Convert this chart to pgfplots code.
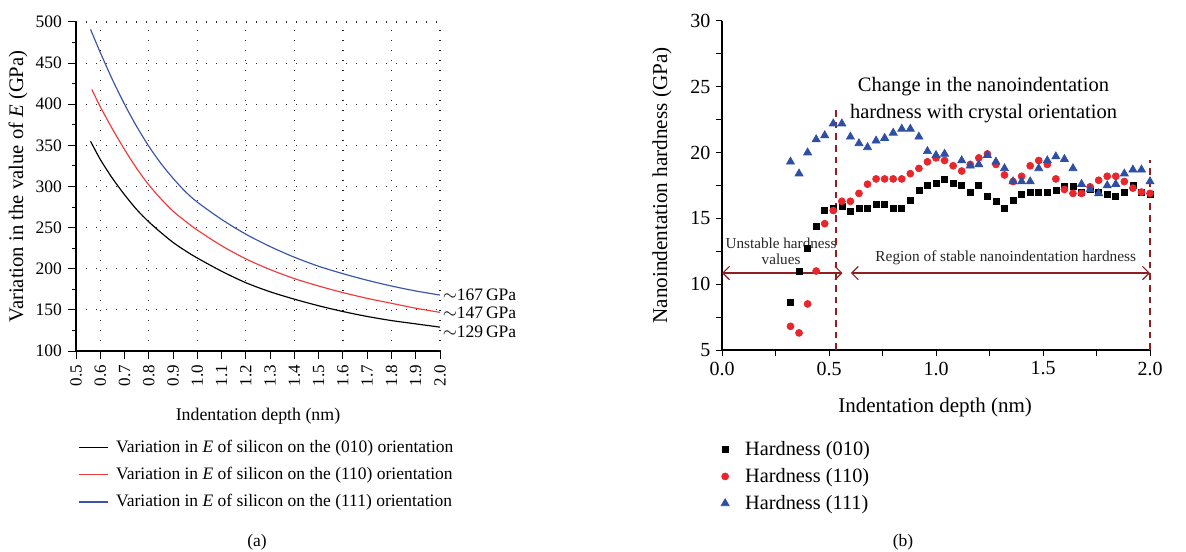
\documentclass[border=0pt]{standalone}
\usepackage{pgfplots}
\pgfplotsset{compat=1.18}
\usepackage{fontspec}
\setmainfont{Liberation Serif}
\usetikzlibrary{arrows.meta}
\definecolor{cRed}{HTML}{E8262B}
\definecolor{cBlue}{HTML}{2E4FA3}
\definecolor{lRed}{HTML}{F23A3A}
\definecolor{lBlue}{HTML}{3A55A8}
\definecolor{dRed}{HTML}{8E1F22}
\begin{document}
\begin{tikzpicture}
\useasboundingbox (0,0) rectangle (711.6pt,-331.2pt);
% ---------------- (a) ----------------
\begin{axis}[
  at={(45.6pt,-210.6pt)}, anchor=south west,
  scale only axis, width=218.4pt, height=197.4pt,
  xmin=0.5, xmax=2.0, ymin=100, ymax=500,
  axis x line*=bottom, axis y line*=left,
  axis line style={line width=0.7pt},
  xtick={0.5,0.6,...,2.01},
  xticklabels={0.5,0.6,0.7,0.8,0.9,1.0,1.1,1.2,1.3,1.4,1.5,1.6,1.7,1.8,1.9,2.0},
  ytick={100,150,...,500},
  minor y tick num=1,
  tick align=outside,
  major tick length=5pt, minor tick length=2.5pt,
  tick style={black, line width=0.6pt},
  xticklabel style={rotate=90, anchor=east, font=\fontsize{10.2}{12}\selectfont},
  yticklabel style={font=\fontsize{10.5}{12}\selectfont},
  /pgf/number format/assume math mode=true,
  ymajorgrids,
  grid style={black!85, line width=0.7pt, dash pattern=on 0.7pt off 5.3pt},
  extra x ticks={0.6,0.8,1.0,1.2,1.4,1.6,1.8,2.0},
  extra x tick labels={},
  extra x tick style={grid=major, major tick length=0pt},
  xlabel={Indentation depth (nm)},
  xlabel style={at={(axis description cs:0.5,-0.198)}, anchor=center, font=\fontsize{10.7}{12}\selectfont},
  ylabel={Variation in the value of \textit{E} (GPa)},
  ylabel style={at={(axis description cs:-0.159,0.5)}, anchor=center, font=\fontsize{12.4}{14}\selectfont},
  clip=false,
  legend style={at={(axis description cs:0.0,-0.255)}, anchor=north west, draw=none, fill=none,
    font=\fontsize{10.5}{12.5}\selectfont, row sep=3.4pt, inner sep=1pt},
  legend cell align=left,
  legend image code/.code={\draw[#1] (0pt,0pt) -- (17.4pt,0pt); \path[draw=none] (0pt,0pt) -- (20.5pt,0pt);},
]
\addplot[black, line width=0.7pt, smooth] coordinates {
(0.56,355) (0.6,333) (0.65,310) (0.7,290) (0.75,272) (0.8,257) (0.85,244) (0.9,232) (0.95,222)
(1.0,213) (1.1,197) (1.2,183) (1.3,172) (1.4,163) (1.5,155) (1.6,148) (1.7,142) (1.8,137) (1.9,133) (2.0,129)};
\addlegendentry{Variation in \textit{E} of silicon on the (010) orientation}
\addplot[lRed, line width=0.7pt, smooth] coordinates {
(0.565,418) (0.6,397) (0.65,370) (0.7,345) (0.75,322) (0.8,302) (0.85,285) (0.9,270) (0.95,258)
(1.0,247) (1.1,228) (1.2,212) (1.3,199) (1.4,188) (1.5,179) (1.6,171) (1.7,164) (1.8,158) (1.9,152) (2.0,147)};
\addlegendentry{Variation in \textit{E} of silicon on the (110) orientation}
\addplot[lBlue, line width=0.7pt, smooth] coordinates {
(0.56,491) (0.6,463) (0.65,430) (0.7,400) (0.75,373) (0.8,349) (0.85,328) (0.9,310) (0.95,294)
(1.0,281) (1.1,260) (1.2,242) (1.3,227) (1.4,214) (1.5,203) (1.6,194) (1.7,186) (1.8,179) (1.9,173) (2.0,168)};
\addlegendentry{Variation in \textit{E} of silicon on the (111) orientation}
\node[anchor=west, font=\fontsize{10.5}{12}\selectfont, inner sep=0pt] at (axis cs:2.01,168) {$\sim$167\,GPa};
\node[anchor=west, font=\fontsize{10.5}{12}\selectfont, inner sep=0pt] at (axis cs:2.01,146) {$\sim$147\,GPa};
\node[anchor=west, font=\fontsize{10.5}{12}\selectfont, inner sep=0pt] at (axis cs:2.01,123) {$\sim$129\,GPa};
\end{axis}
\node[font=\fontsize{10.5}{12}\selectfont] at (154.2pt,-325.2pt) {(a)};
% ---------------- (b) ----------------
\begin{axis}[
  at={(433.2pt,-210pt)}, anchor=south west,
  scale only axis, width=256.8pt, height=197.4pt,
  xmin=0, xmax=2.0, ymin=5, ymax=30,
  axis x line*=bottom, axis y line*=left,
  axis line style={line width=0.7pt},
  xtick={0,0.5,1.0,1.5,2.0},
  xticklabels={0.0,0.5,1.0,1.5,2.0},
  ytick={5,10,...,30},
  minor x tick num=1, minor y tick num=1,
  tick align=outside,
  major tick length=3.5pt, minor tick length=3.5pt,
  tick style={black, line width=0.6pt},
  ticklabel style={font=\fontsize{12}{14}\selectfont},
  /pgf/number format/assume math mode=true,
  xlabel={Indentation depth (nm)},
  xlabel style={at={(axis description cs:0.498,-0.176)}, anchor=center, font=\fontsize{12.6}{14}\selectfont},
  ylabel={Nanoindentation hardness (GPa)},
  ylabel style={at={(axis description cs:-0.140,0.5)}, anchor=center, font=\fontsize{12.7}{14}\selectfont},
  clip=false,
  legend style={at={(axis description cs:-0.009,-0.261)}, anchor=north west, draw=none, fill=none,
    font=\fontsize{12.2}{14}\selectfont, row sep=2.2pt, inner sep=1pt},
  legend cell align=left,
  legend image code/.code={\path[draw=none, fill=none] (-3pt,0pt) -- (10pt,0pt); \draw[#1] plot coordinates {(0pt,0pt)};},
]
\addplot[only marks, mark=square*, mark size=1.8pt, black] coordinates {
(0.32,8.6) (0.36,11.0) (0.40,12.7) (0.44,14.4) (0.48,15.6) (0.52,15.8) (0.56,15.9) (0.60,15.5)
(0.64,15.8) (0.68,15.8) (0.72,16.1) (0.76,16.1) (0.80,15.8) (0.84,15.8) (0.88,16.4) (0.92,17.1)
(0.96,17.5) (1.00,17.7) (1.04,18.0) (1.08,17.7) (1.12,17.5) (1.16,17.0) (1.20,17.5) (1.24,16.7)
(1.28,16.3) (1.32,15.8) (1.36,16.4) (1.40,16.8) (1.44,17.0) (1.48,17.0) (1.52,17.0) (1.56,17.1)
(1.60,17.4) (1.64,17.4) (1.68,17.0) (1.72,17.2) (1.76,17.0) (1.80,16.8) (1.84,16.7) (1.88,17.0)
(1.92,17.5) (1.96,17.0) (2.00,16.8)};
\addlegendentry{Hardness (010)}
\addplot[only marks, mark=*, mark size=2.1pt, cRed, mark options={draw=cRed, fill=cRed}] coordinates {
(0.32,6.8) (0.36,6.3) (0.40,8.5) (0.44,11.0) (0.48,14.6) (0.52,15.6) (0.56,16.3) (0.60,16.3)
(0.64,16.9) (0.68,17.6) (0.72,18.0) (0.76,18.0) (0.80,18.0) (0.84,18.0) (0.88,18.4) (0.92,18.8)
(0.96,19.3) (1.00,19.6) (1.04,19.4) (1.08,19.0) (1.12,18.6) (1.16,19.1) (1.20,19.6) (1.24,19.9)
(1.28,19.1) (1.32,18.3) (1.36,17.8) (1.40,18.2) (1.44,19.0) (1.48,19.4) (1.52,19.1) (1.56,18.0)
(1.60,17.2) (1.64,16.9) (1.68,16.9) (1.72,17.4) (1.76,17.9) (1.80,18.2) (1.84,18.2) (1.88,17.8)
(1.92,17.3) (1.96,17.0) (2.00,16.9)};
\addlegendentry{Hardness (110)}
\addplot[only marks, mark=triangle*, mark size=2.8pt, cBlue, mark options={draw=cBlue, fill=cBlue}] coordinates {
(0.32,19.3) (0.36,18.4) (0.40,20.0) (0.44,21.0) (0.48,21.3) (0.52,22.2) (0.56,22.2) (0.60,21.2)
(0.64,20.7) (0.68,20.4) (0.72,20.9) (0.76,21.1) (0.80,21.5) (0.84,21.8) (0.88,21.8) (0.92,21.2)
(0.96,20.1) (1.00,19.8) (1.04,19.9) (1.12,19.4) (1.16,19.0) (1.20,19.1) (1.24,19.8)
(1.28,19.3) (1.32,18.8) (1.36,17.8) (1.40,17.8) (1.44,17.8) (1.48,18.8) (1.52,19.4) (1.56,19.7)
(1.60,19.5) (1.64,18.8) (1.68,17.6) (1.72,17.2) (1.76,16.9) (1.80,17.5) (1.84,17.6) (1.88,18.4)
(1.92,18.7) (1.96,18.7) (2.00,17.8)};
\addlegendentry{Hardness (111)}
\addplot[dRed, line width=0.9pt, dash pattern=on 4pt off 3pt, forget plot] coordinates {(0.532,5) (0.532,23.2)};
\addplot[dRed, line width=0.9pt, dash pattern=on 4pt off 3pt, forget plot] coordinates {(2.0,5) (2.0,19.4)};
\addplot[dRed, line width=0.7pt, {Straight Barb[length=4pt,width=8pt]}-{Straight Barb[length=4pt,width=8pt]}, forget plot] coordinates {(0.0,10.85) (0.563,10.85)};
\addplot[dRed, line width=0.7pt, {Straight Barb[length=4pt,width=8pt]}-{Straight Barb[length=4pt,width=8pt]}, forget plot] coordinates {(0.602,10.85) (2.0,10.85)};
\node[align=center, font=\fontsize{9.1}{9.6}\selectfont, inner sep=0pt, text=black!85] at (axis cs:0.276,12.5) {Unstable hardness\\values};
\node[font=\fontsize{9.2}{11}\selectfont, inner sep=0pt, text=black!85] at (axis cs:1.326,12.0) {Region of stable nanoindentation hardness};
\node[align=center, font=\fontsize{12.3}{16}\selectfont, inner sep=0pt] at (axis cs:1.222,24.0) {Change in the nanoindentation\\hardness with crystal orientation};
\end{axis}
\node[font=\fontsize{10.5}{12}\selectfont] at (541.8pt,-325.2pt) {(b)};
\end{tikzpicture}
\end{document}
